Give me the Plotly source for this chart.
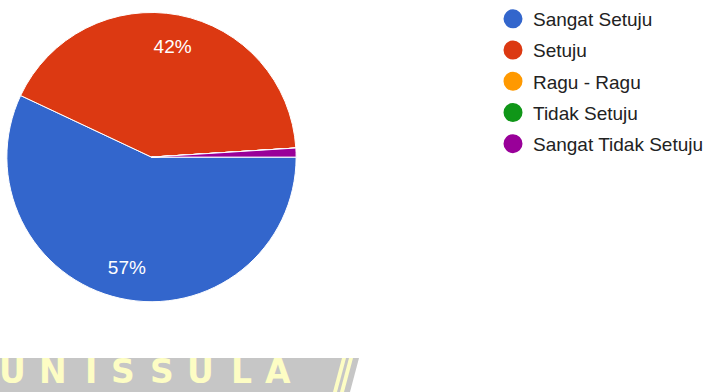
import plotly.graph_objects as go

# ---- data ----
categories = ["Sangat Setuju", "Setuju", "Ragu - Ragu", "Tidak Setuju", "Sangat Tidak Setuju"]
counts = [57, 42, 0, 0, 1]
colors = ["#3366cc", "#dc3912", "#ff9900", "#109618", "#990099"]

# watermark (image artefact at the bottom)
wm_letters = ["U", "N", "I", "S", "S", "U", "L", "A"]
wm_centers = [12, 53, 91, 123, 162, 200, 241, 278]

W, H = 712, 392
def px(x):
    return x / W
def py(y):
    return 1 - y / H

total = sum(counts)
labels_tpl = ["%{percent:.0%}" if c / total >= 0.05 else "" for c in counts]

dom_x = [px(6.5), px(296.5)]
dom_y = [py(301.5), py(11.5)]

fig = go.Figure()

# main pie
fig.add_trace(go.Pie(
    labels=categories, values=counts, sort=False, direction="clockwise", rotation=90,
    marker=dict(colors=colors, line=dict(color="white", width=1)),
    textinfo="none", showlegend=False, hoverinfo="label+percent",
    domain=dict(x=dom_x, y=dom_y),
))
# transparent ring used to place the percentage labels
fig.add_trace(go.Pie(
    labels=categories, values=counts, sort=False, direction="clockwise", rotation=90,
    hole=0.56,
    marker=dict(colors=["rgba(0,0,0,0)"] * len(counts), line=dict(width=0)),
    texttemplate=labels_tpl, textposition="inside", insidetextorientation="horizontal",
    insidetextfont=dict(color="white", size=19, family="Liberation Sans, Arial"),
    showlegend=False, hoverinfo="skip",
    domain=dict(x=dom_x, y=dom_y),
))

# legend entries with round symbols
for i, (name, col) in enumerate(zip(categories, colors)):
    fig.add_trace(go.Scatter(
        x=[None], y=[None], mode="markers", name=name,
        marker=dict(color=col, size=16, line=dict(color=col, width=3)),
        legendgroup=f"g{i}", showlegend=True,
    ))

shapes = []
# gray band with slanted right edge
shapes.append(dict(type="path", xref="paper", yref="paper",
                   path=f"M {px(0)},{py(358)} L {px(359)},{py(358)} L {px(350)},{py(392)} L {px(0)},{py(392)} Z",
                   fillcolor="#c6c6c6", line=dict(width=0), layer="above"))
for (b0, t0) in [(333, 342), (340, 349)]:
    shapes.append(dict(type="path", xref="paper", yref="paper",
                       path=f"M {px(b0)},{py(392)} L {px(b0+4)},{py(392)} L {px(t0+4)},{py(358)} L {px(t0)},{py(358)} Z",
                       fillcolor="#fdfdc4", line=dict(width=0), layer="above"))

annotations = []
for ch, cx in zip(wm_letters, wm_centers):
    annotations.append(dict(text=f"<b>{ch}</b>", x=px(cx), y=py(371), xref="paper", yref="paper",
                            xanchor="center", yanchor="middle", showarrow=False,
                            font=dict(family="DejaVu Sans", size=33, color="#fdfdc4")))

fig.update_layout(
    width=W, height=H, margin=dict(l=0, r=0, t=0, b=0),
    paper_bgcolor="white", plot_bgcolor="white",
    xaxis=dict(visible=False), yaxis=dict(visible=False),
    legend=dict(x=px(493), y=py(-1), xanchor="left", yanchor="top",
                font=dict(family="Liberation Sans, Arial", size=19, color="#222222"),
                traceorder="grouped", tracegroupgap=3.5, bgcolor="rgba(0,0,0,0)"),
    shapes=shapes, annotations=annotations,
)

fig.write_html("out.html")
